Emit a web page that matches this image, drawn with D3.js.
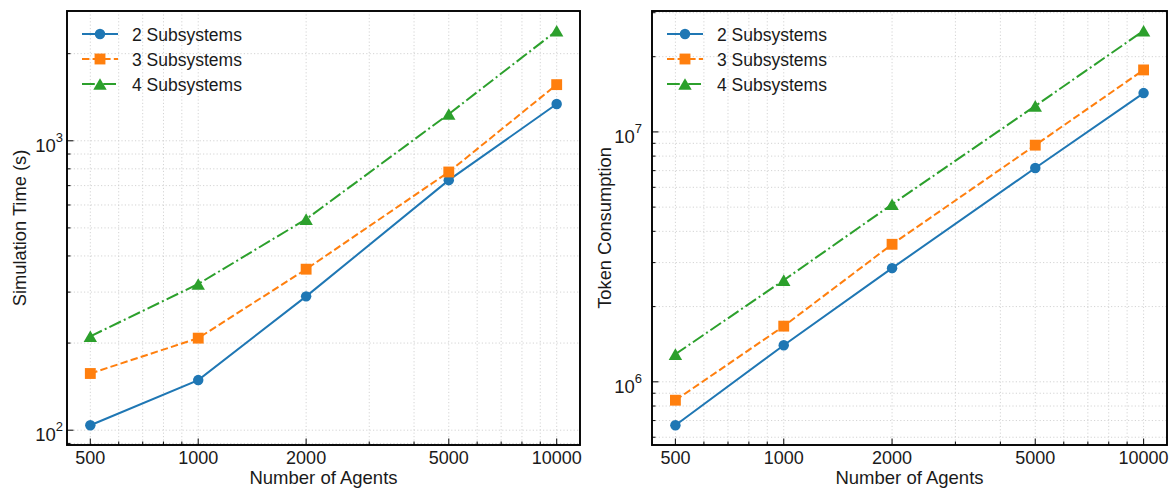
<!DOCTYPE html>
<html>
<head>
<meta charset="utf-8">
<script src="https://cdn.jsdelivr.net/npm/d3@7"></script>
<style>
  html, body { margin: 0; padding: 0; background: #fff; }
  svg { display: block; }
  text { font-family: "Liberation Sans", Arial, Helvetica, sans-serif; fill: #1a1a1a; }
</style>
</head>
<body>
<svg id="chart" width="1176" height="488"></svg>
<script>
const agents = [500, 1000, 2000, 5000, 10000];
const xTickValues = [500, 1000, 2000, 5000, 10000];
const seriesNames = ["2 Subsystems", "3 Subsystems", "4 Subsystems"];
const timeTwo = [104, 149, 290, 731, 1340];
const timeThree = [157, 208, 360, 780, 1563];
const timeFour = [211, 320, 536, 1237, 2400];
const tokenTwo = [6.70e5, 1.40e6, 2.85e6, 7.17e6, 1.43e7];
const tokenThree = [8.44e5, 1.67e6, 3.55e6, 8.85e6, 1.77e7];
const tokenFour = [1.29e6, 2.55e6, 5.13e6, 1.27e7, 2.54e7];

const colors = ["#1f77b4", "#ff7f0e", "#2ca02c"];
const dashes = [null, "7.4,3.2", "12.8,3.2,2,3.2"];
const symbols = [d3.symbolCircle, d3.symbolSquare, d3.symbolTriangle];
const symbolSizes = [86, 118, 78];
const symbolShift = [0, 0, 1.9];

const svg = d3.select("#chart");

function logDomain(vals) {
  const lo = Math.log10(d3.min(vals)), hi = Math.log10(d3.max(vals));
  const m = (hi - lo) * 0.05;
  return [Math.pow(10, lo - m), Math.pow(10, hi + m)];
}

function minorTicks(domain) {
  const out = [];
  const k0 = Math.floor(Math.log10(domain[0])), k1 = Math.ceil(Math.log10(domain[1]));
  for (let k = k0; k <= k1; k++) {
    for (let m = 1; m <= 9; m++) {
      const v = m * Math.pow(10, k);
      if (v >= domain[0] && v <= domain[1]) out.push(v);
    }
  }
  return out;
}

function drawPanel(box, seriesList, yLabel, yLabelPad) {
  const g = svg.append("g");
  const x = d3.scaleLog().domain(logDomain(agents)).range([box.left, box.right]);
  const yDom = logDomain(seriesList.flat());
  const y = d3.scaleLog().domain(yDom).range([box.bottom, box.top]);

  const xMinor = minorTicks(x.domain());
  const yMinor = minorTicks(yDom);
  const yMajor = yMinor.filter(v => Math.abs(Math.log10(v) - Math.round(Math.log10(v))) < 1e-9);

  // grid
  const grid = g.append("g").attr("stroke", "#cfcfcf").attr("stroke-width", 0.9).attr("stroke-dasharray", "1.2,2.2");
  grid.selectAll("line.gx").data(xMinor).join("line")
    .attr("x1", d => x(d)).attr("x2", d => x(d)).attr("y1", box.top).attr("y2", box.bottom);
  grid.selectAll("line.gy").data(yMinor).join("line")
    .attr("y1", d => y(d)).attr("y2", d => y(d)).attr("x1", box.left).attr("x2", box.right);

  // ticks (inward)
  const ticks = g.append("g").attr("stroke", "#1a1a1a").attr("stroke-width", 1.1);
  ticks.selectAll("line.tx").data(xMinor).join("line")
    .attr("x1", d => x(d)).attr("x2", d => x(d))
    .attr("y1", box.bottom).attr("y2", d => box.bottom - (xTickValues.includes(d) ? 6.5 : 3.5));
  ticks.selectAll("line.ty").data(yMinor).join("line")
    .attr("y1", d => y(d)).attr("y2", d => y(d))
    .attr("x1", box.left).attr("x2", d => box.left + (yMajor.includes(d) ? 6.5 : 3.5));

  // x tick labels
  g.append("g").selectAll("text").data(xTickValues).join("text")
    .attr("x", d => x(d)).attr("y", box.bottom + 18.5)
    .attr("text-anchor", "middle").attr("font-size", 18).text(d => d);

  // y tick labels
  const yl = g.append("g").selectAll("text").data(yMajor).join("text")
    .attr("x", box.left - yLabelPad).attr("y", d => y(d) + 11)
    .attr("text-anchor", "end").attr("font-size", 18.5);
  yl.append("tspan").text("10");
  yl.append("tspan").attr("font-size", 13).attr("dy", -10).text(d => Math.round(Math.log10(d)));

  // axis labels
  g.append("text").attr("x", (box.left + box.right) / 2).attr("y", box.bottom + 38.5)
    .attr("text-anchor", "middle").attr("font-size", 18.5).text("Number of Agents");
  g.append("text")
    .attr("transform", `translate(${box.left - 41},${(box.top + box.bottom) / 2}) rotate(-90)`)
    .attr("text-anchor", "middle").attr("font-size", 18.3).text(yLabel);

  // series
  const line = d3.line().x((d, i) => x(agents[i])).y(d => y(d));
  seriesList.forEach((vals, si) => {
    g.append("path").datum(vals).attr("d", line)
      .attr("fill", "none").attr("stroke", colors[si]).attr("stroke-width", 2)
      .attr("stroke-dasharray", dashes[si]);
    g.append("g").selectAll("path").data(vals).join("path")
      .attr("transform", (d, i) => `translate(${x(agents[i])},${y(d) + symbolShift[si]})`)
      .attr("d", d3.symbol(symbols[si], symbolSizes[si])())
      .attr("fill", colors[si]);
  });

  // legend
  const lg = g.append("g");
  seriesNames.forEach((name, si) => {
    const ly = box.top + 23 + si * 25;
    const lx = box.left + 15;
    lg.append("line").attr("x1", lx).attr("x2", lx + 36).attr("y1", ly).attr("y2", ly)
      .attr("stroke", colors[si]).attr("stroke-width", 2).attr("stroke-dasharray", dashes[si]);
    lg.append("path").attr("transform", `translate(${lx + 18},${ly + symbolShift[si]})`)
      .attr("d", d3.symbol(symbols[si], symbolSizes[si])()).attr("fill", colors[si]);
    lg.append("text").attr("x", lx + 50).attr("y", ly + 6.5).attr("font-size", 17.5).text(name);
  });

  // frame
  g.append("rect").attr("x", box.left).attr("y", box.top)
    .attr("width", box.right - box.left).attr("height", box.bottom - box.top)
    .attr("fill", "none").attr("stroke", "#000").attr("stroke-width", 1.9);
}

drawPanel({ left: 67, right: 580, top: 11, bottom: 445 }, [timeTwo, timeThree, timeFour], "Simulation Time (s)", 4);
drawPanel({ left: 652, right: 1167, top: 11, bottom: 445 }, [tokenTwo, tokenThree, tokenFour], "Token Consumption", 10);
</script>
</body>
</html>
